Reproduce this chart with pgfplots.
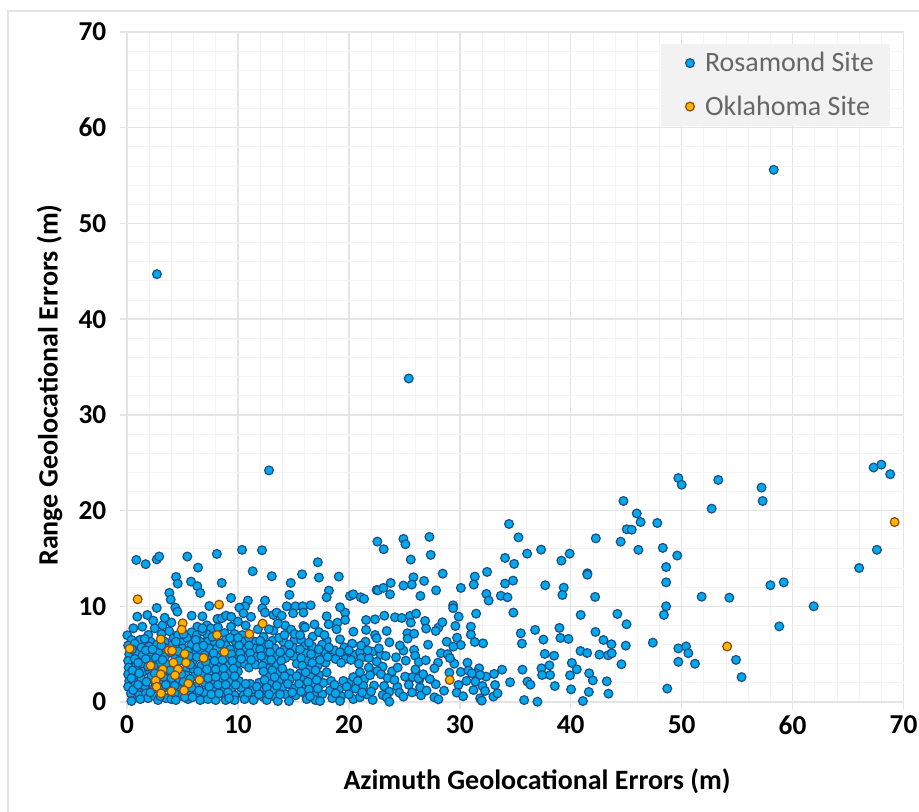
\documentclass[border=0pt]{standalone}
\usepackage{pgfplots}
\usepackage{fontspec}
\setmainfont{Carlito}
\pgfplotsset{compat=1.18}
\definecolor{rosa}{HTML}{00A8EC}
\definecolor{rosaedge}{HTML}{1C4F86}
\definecolor{okla}{HTML}{FFB400}
\definecolor{oklaedge}{HTML}{8A4A14}
\definecolor{gridmaj}{HTML}{E4E4E4}
\definecolor{gridmin}{HTML}{F4F4F4}
\pgfplotstableread{
x y
58.3 55.6
2.7 44.7
25.4 33.8
12.8 24.2
49.7 23.4
50 22.7
53.3 23.2
57.2 22.4
57.3 21
52.7 20.2
67.3 24.5
68 24.8
68.8 23.8
44.75 21
45.95 19.7
46.3 18.8
47.8 18.7
45.05 18.05
45.5 18
44.5 16.75
48.3 16.1
46.1 15.9
49.6 15.3
48.6 14.1
48.6 12.5
51.8 11
54.3 10.9
58 12.2
59.2 12.5
61.9 10
66 14
67.6 15.9
58.8 7.9
47.4 6.2
49.7 5.6
50.4 5.8
50.6 5.1
49.7 4.2
51.2 4
54.9 4.4
55.4 2.6
48.7 1.4
48.6 10
48.4 9.1
44.2 9.2
45.03 8.12
.84 14.84
1.68 14.4
2.68 14.9
2.9 15.2
5.44 15.2
6.4 14.04
8.1 15.47
10.37 15.9
12.17 15.85
4.42 13.07
4.57 12.37
5.77 12.58
6.34 12.1
6.6 11.4
8.54 12.44
11.33 13.66
13.05 13.14
14.76 12.44
15.78 13.34
17.2 14.6
17.3 13
19.09 13.1
22.57 16.76
3.82 11.4
3.94 10.7
2.68 9.83
4.36 9.86
4.54 9.44
7.42 10.03
9.38 10.87
10.9 10.6
10.64 10
10.13 9.86
10.5 9.27
11.18 8.9
12.44 10.6
12.2 9.8
12.44 9.34
14.64 11.2
14.4 10
15.18 10
15.84 10
16.56 10.1
14.97 9.27
15.9 9.34
18.2 11.64
18 10.94
20.1 11.08
20.4 11.25
21.07 10.94
21.37 10.77
22.5 11.7
23.14 15.96
24.92 17.04
25.1 16.48
27.26 17.25
25.58 14.88
27.38 15.37
28.46 13.41
32.46 13.59
31.35 13.1
31.26 12.27
34.44 18.6
35.29 17.2
36.07 15.5
37.33 15.92
34.08 15.05
34.9 14.43
39.16 14.77
39.9 15.5
42.26 17.1
41.5 13.45
41.5 13.3
37.7 12.2
34.8 12.68
34.08 12.37
39.37 11.95
39.25 11.18
42.2 10.98
32.4 11.29
32.6 10.6
33.7 11.1
34.3 10.94
30.1 11.92
27.86 11.67
26.78 12.65
25.82 13.03
25.67 12.27
24.92 12.16
26.45 11.08
23.77 12.44
23.71 11.25
22.63 11.67
23.11 11.92
29.4 10.1
29.4 9.8
29.9 8.92
31.47 9.23
34.83 9.34
40.9 9.1
22.36 8.64
23.2 9.02
24.16 8.85
24.77 8.78
25.52 8.99
26.06 9.23
25.58 8.29
26.87 8.47
26.96 7.67
28.07 7.77
28.43 8.33
27.83 7.42
29.6 7.94
31 7.87
31 7.04
23.41 7.42
22.36 7
22.51 6.66
25.28 7.18
25.3 6.62
25.88 7.14
23.65 6.24
27.14 5.99
28.82 6.3
29.75 6.72
30.09 5.96
29.42 5.78
31.35 6.27
32.1 6.13
35.5 7.18
35.6 6.1
36.79 7.53
37.54 6.52
38.98 7.74
39.07 6.69
39.79 6.59
42.23 7.32
42.95 6.48
43.67 6.03
44.96 5.89
37.66 5.02
38.5 4.84
40.88 5.33
41.48 5.12
42.59 4.95
43.37 4.88
43.7 5.09
44.57 3.94
40.1 4.08
40.55 3.41
39.94 2.79
38.08 3.83
37.36 3.52
38.14 2.82
37.42 2.82
35.65 3.38
33.81 3.38
33.09 2.93
32.37 2.65
34.53 2.06
36.1 2.13
36.37 1.81
38.56 1.67
40.03 1.32
41.66 3
41.99 2.26
43.25 2.16
41.63 1.05
43.4 .87
35.8 .2
37 .03
41.1 .1
30.69 4.11
29.51 4
28.04 4.11
27.71 3.52
29.06 3.07
30.09 3.14
31.74 3.52
30.78 3.28
31.47 3
31.83 2.82
31.08 3
31.41 2.13
32.04 1.67
32.28 1.15
33.03 .56
33.18 1.78
29.88 1.78
29.72 .98
31.23 1.25
31.83 .38
31.98 .14
28.58 1.18
27.83 1.85
27.71 .49
28.07 .28
26.51 .7
26.42 1.53
25.07 2.65
25.76 2.61
26.36 2.37
26.27 2.47
24.92 5.37
25.88 5.44
25.97 4.84
25.13 4.32
26.3 4.18
26.93 4.36
22.87 4.95
23.32 4.81
24.25 4.67
22.12 5.26
22.51 4.22
23.05 3.69
22.57 3.24
22.27 1.71
23.17 1.67
24.37 1.6
24.55 .98
24.92 .56
23.65 1.08
23.05 .73
23.41 .49
23.65 .03
22.15 .21
.93 8.92
1.83 9.09
2.37 8.5
3.2 8.01
.57 7.7
1.38 7.87
2.5 7.7
.03 6.97
.42 6.48
1.17 6.48
1.92 7
2.13 6.3
5.83 9.02
6.8 8.95
8.15 8.68
8.54 8.75
8.93 9.02
6.34 7.87
7.2 8.01
7.57 7.7
9.38 7.87
5.83 7.28
13.2 9.09
13.5 9.34
13.95 9.02
14.25 8.01
14.79 7.56
13.2 7.46
15.9 7.94
16.05 7.8
16.74 6.83
18 6.41
19.2 6.55
20.41 7.35
21.55 8.57
21.55 7.53
18 8.95
18.18 8.12
18.97 8.29
18.9 7.6
19.66 9.34
19.66 8.57
19.2 9.9
.1 5.9
.2 5.0
.1 4.3
.15 3.6
.1 2.9
.2 2.2
.1 1.6
.35 .9
.4 .1
.7 6.1
.8 5.2
.7 4.5
.8 3.7
.9 2.8
.7 2.1
.9 1.3
1.1 .7
1.3 5.7
1.4 4.9
1.3 4.0
1.5 3.2
1.3 2.4
1.6 1.7
1.7 .9
1.9 .4
2.0 5.8
2.0 5.0
2.1 4.4
2.0 3.3
2.2 2.7
2.3 1.3
2.5 .6
2.8 .2
2.7 6.0
2.8 5.2
2.6 4.6
2.9 4.0
3.0 2.2
3.2 1.4
3.5 .4
3.4 6.3
3.5 5.6
3.4 4.7
3.6 3.9
3.7 2.9
3.9 2.0
4.0 .3
4.2 6.7
4.1 6.0
4.3 4.9
4.5 3.4
4.7 2.4
4.8 1.5
4.7 .7
3.8 7.4
4.6 7.0
4.9 6.2
5.0 5.6
5.1 4.6
5.4 3.5
5.3 2.8
5.6 .9
5.5 .3
5.4 6.7
5.8 6.0
5.9 5.1
5.9 4.2
6.0 3.4
6.1 2.7
6.2 1.6
6.3 .8
6.6 .2
6.3 7.0
6.6 6.3
6.6 5.4
6.7 3.8
6.9 3.0
7.0 2.0
7.0 1.0
7.3 .3
7.2 7.1
7.3 6.3
7.4 5.6
7.4 4.6
7.5 3.8
7.6 3.0
7.7 2.2
7.8 1.4
7.9 .6
8.0 .2
7.9 6.3
8.1 5.6
8.1 4.7
8.3 3.9
8.4 3.1
8.4 2.2
8.6 1.5
8.8 .7
8.9 .2
8.8 7.2
8.9 6.5
8.9 5.9
9.0 4.6
9.1 3.8
9.2 3.0
9.2 2.1
9.4 1.3
9.7 .7
9.7 .2
9.7 7.1
9.8 6.3
9.7 5.5
9.9 4.8
9.9 4.0
10.0 3.2
10.1 2.2
10.3 1.5
10.5 .7
10.6 .3
10.4 7.0
10.5 6.3
10.6 5.5
10.7 4.8
10.6 4.0
11.0 3.6
11.1 1.9
11.3 1.2
11.5 .5
11.4 .2
11.5 6.3
11.5 5.6
11.6 4.7
11.6 3.9
11.9 2.0
12.0 1.2
12.3 .5
12.6 .2
12.3 6.8
12.4 6.0
12.5 5.2
12.5 4.4
12.7 3.5
12.8 2.7
12.9 1.9
13.1 1.2
13.4 .5
13.6 .1
13.1 6.4
13.3 5.6
13.4 4.8
13.5 3.9
13.6 3.1
13.7 2.2
14.0 1.5
14.3 .8
14.6 .1
14.1 6.3
14.1 5.4
14.3 4.6
14.7 3.0
14.7 2.4
15.0 1.4
15.2 .7
15.1 6.5
15.0 5.7
15.0 4.8
15.3 4.0
15.6 3.0
15.7 2.4
15.9 1.6
16.0 .9
16.2 .3
15.7 6.5
16.0 5.8
16.1 5.1
16.2 4.3
16.5 3.5
16.6 2.6
16.8 1.8
16.9 .7
17.0 .2
16.7 5.8
17.1 5.0
17.2 3.8
17.3 2.8
17.7 2.0
17.6 .8
17.4 .1
17.6 6.0
17.9 5.1
17.9 4.1
18.0 3.1
18.4 2.2
18.3 1.2
18.5 .4
18.7 5.4
18.8 4.5
19.1 1.3
19.3 .6
19.2 .1
19.6 5.7
19.6 5.0
19.7 4.5
20.5 4.9
20.2 4.4
21.0 5.2
21.1 4.6
20.0 2.0
20.4 2.6
20.6 1.4
20.4 .3
21.0 3.1
21.4 2.4
21.3 1.7
21.0 .5
21.8 3.6
21.6 .8
21.5 6.3
21.1 5.9
20.3 6.1
.45 5.5
.5 3.3
.4 2.5
.55 1.25
1.0 4.1
1.1 3.0
1.0 1.8
1.2 .3
1.6 6.6
1.7 5.4
1.7 4.5
1.75 2.1
1.9 3.7
2.3 5.5
2.4 3.7
2.5 3.0
2.6 1.9
2.1 1.0
3.1 7.1
3.1 5.9
3.2 4.4
3.3 2.6
3.5 1.8
3.0 .6
3.9 5.2
3.9 3.3
4.0 2.5
4.3 1.7
4.3 .9
4.4 .2
4.4 6.3
4.6 5.3
4.7 4.3
4.9 2.9
5.1 2.1
5.2 1.3
5.2 .5
5.1 7.1
5.5 5.3
5.6 4.8
5.7 3.9
5.7 2.4
5.8 1.5
5.9 .5
6.2 6.5
6.3 5.7
6.3 4.7
6.4 3.2
6.5 1.2
6.8 7.4
6.9 5.9
7.0 4.9
7.1 4.2
7.2 3.4
7.3 2.5
7.4 1.6
7.6 .8
7.7 6.8
7.8 5.1
7.9 4.3
8.0 3.4
8.0 2.6
8.2 1.8
8.3 .9
8.4 6.1
8.6 4.4
8.7 3.5
8.8 2.7
8.9 1.8
9.1 1.0
9.2 .4
9.3 6.7
9.3 5.5
9.4 5.0
9.5 4.3
9.6 3.5
9.7 2.7
9.8 1.8
10.0 6.7
10.1 5.9
10.2 5.1
10.3 4.5
10.7 1.9
10.9 1.0
11.0 6.7
11.0 5.9
11.1 5.1
11.2 4.4
11.7 1.6
11.9 .8
12.0 6.4
12.0 5.5
12.1 4.8
12.2 3.8
12.3 3.2
12.4 2.3
12.6 1.5
12.8 .8
12.8 6.0
12.9 5.2
13.0 4.4
13.1 3.3
13.3 2.6
13.5 1.7
13.8 .8
13.7 6.7
13.8 5.2
13.9 4.3
14.0 3.5
14.2 2.7
14.5 1.9
14.9 1.0
14.6 6.0
14.7 5.1
15.3 2.7
15.5 1.9
15.7 1.1
15.6 5.5
15.7 4.6
15.8 3.8
16.1 3.1
16.3 2.1
16.4 1.3
16.5 .6
16.4 6.2
16.6 5.0
16.7 4.1
17.0 3.3
17.1 2.3
17.2 1.4
17.3 5.5
17.4 4.4
18.1 4.7
18.7 1.8
18.8 .9
18.2 5.7
19.2 5.2
19.3 4.1
19.5 2.2
19.8 1.6
20.0 .8
20.0 5.4
20.9 4.0
20.8 2.2
21.2 1.0
21.9 2.8
21.8 4.6
21.7 5.4
22.0 1.1
22.7 5.6
22.9 2.9
23.5 2.5
23.9 3.2
24.1 2.3
24.4 3.6
24.6 5.9
25.4 1.8
25.7 1.0
26.0 3.4
26.7 2.9
27.0 1.2
27.3 2.4
28.3 5.1
28.9 5.0
29.1 4.6
30.6 2.2
30.3 .6
33.4 .9
13.6 8.2
12.8 7.6
11.8 7.6
10.7 8.0
10.0 8.4
9.4 8.9
16.9 8.1
17.3 7.3
17.8 7.0
15.1 7.1
15.6 7.0
14.2 7.0
4.0 8.3
3.4 8.8
6.8 7.7
8.2 7.8
}\rosamond
\pgfplotstableread{
x y
.96 10.73
8.3 10.17
5.02 8.22
4.93 7.56
12.23 8.19
11.03 7.1
8.12 7
3.04 6.55
.24 5.57
3.76 5.4
4.06 5.37
5.2 5.02
8.78 5.23
6.91 4.6
4.18 4.11
5.32 4.11
2.13 3.8
4.6 3.41
3.22 3.41
3.04 2.89
4.33 2.79
2.58 2.23
6.52 2.3
5.53 1.92
2.67 1.6
5.14 1.22
4 1.11
3.07 .9
29.09 2.3
54.1 5.8
69.2 18.8
}\oklahoma
\begin{document}
\begin{tikzpicture}[x=1pt,y=1pt]
\path[use as bounding box] (-95.25,-82.5) rectangle (594,526.5);
\draw[color=gridmaj,line width=1pt] (-89.25,-82.5) -- (-89.25,518.25) -- (594,518.25);
\begin{axis}[
  at={(0,0)},anchor=origin,
  scale only axis,width=582.4pt,height=502.5pt,
  xmin=0,xmax=70,ymin=0,ymax=70,
  xtick={0,10,...,70},ytick={0,10,...,70},
  minor x tick num=4,minor y tick num=4,
  grid=both,
  major grid style={gridmaj,line width=1.1pt},
  minor grid style={gridmin,line width=.6pt},
  axis line style={gridmaj,line width=1.1pt},
  axis x line*=bottom,axis y line*=left,
  axis line shift=0pt,
  tick style={gridmaj,line width=1.1pt},
  major tick length=5pt,minor tick length=0pt,
  tick align=outside,
  /pgf/number format/assume math mode=true,
  tick label style={font=\fontsize{20.5}{22}\selectfont\bfseries},
  xticklabel style={yshift=-2pt},
  yticklabel style={xshift=-7pt},
  label style={font=\fontsize{21}{24}\selectfont\bfseries},
  xlabel={Azimuth Geolocational Errors (m)},
  ylabel={Range Geolocational Errors (m)},
  xlabel style={at={(axis description cs:0.528,0)},anchor=north,yshift=-46.5pt},
  ylabel style={at={(axis description cs:0,0.473)},anchor=south,yshift=45pt},
  clip=false,
  legend style={at={(axis cs:68.8,68.8)},anchor=north east,
    fill=black!5,draw=none,
    font=\fontsize{21}{24}\selectfont,text=black!60,
    row sep=12.5pt,inner xsep=10pt,inner ysep=4.5pt,
    legend cell align=left},
  legend image code/.code={\draw[#1] plot coordinates {(0.1cm,0cm)};\path (-8.5pt,0) (11.9pt,0);},
]
\addplot[only marks,mark=*,mark size=3.3pt,
  mark options={fill=rosa,draw=rosaedge,line width=.9pt}] table {\rosamond};
\addlegendentry{Rosamond Site}
\addplot[only marks,mark=*,mark size=3.3pt,
  mark options={fill=okla,draw=oklaedge,line width=.9pt}] table {\oklahoma};
\addlegendentry{Oklahoma Site}
\end{axis}
\end{tikzpicture}
\end{document}
